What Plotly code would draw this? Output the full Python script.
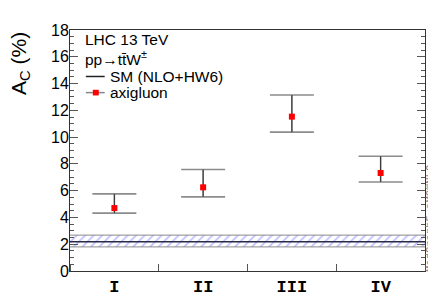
import plotly.graph_objects as go

# ---- data ----
categories = ["I", "II", "III", "IV"]
bin_pos = [1, 2, 3, 4]
axigluon = [4.70, 6.25, 11.53, 7.32]
axigluon_up = [5.76, 7.58, 13.14, 8.57]
axigluon_down = [4.32, 5.54, 10.37, 6.65]
sm_central = 2.18
sm_up = 2.68
sm_down = 1.80
x_edges = [0.5, 4.5]

W, H = 436, 301
L, R, T, B = 62, 16, 22, 25
PW, PH = W - L - R, H - T - B

def px(x):
    return (x - L) / PW

def py(y):
    return (H - B - y) / PH

err_plus = [u - v for u, v in zip(axigluon_up, axigluon)]
err_minus = [v - d for v, d in zip(axigluon, axigluon_down)]

fig = go.Figure()

# SM band (hatched)
fig.add_trace(go.Scatter(x=x_edges, y=[sm_down, sm_down], mode="lines",
                         line=dict(color="#8a8a8a", width=1), showlegend=False, hoverinfo="skip"))
fig.add_trace(go.Scatter(x=x_edges, y=[sm_up, sm_up], mode="lines",
                         line=dict(color="#8a8a8a", width=1), fill="tonexty",
                         fillcolor="rgba(0,0,0,0)",
                         fillpattern=dict(shape="/", fgcolor="#8080ff", bgcolor="white",
                                          size=6, solidity=0.28),
                         showlegend=False, hoverinfo="skip"))
fig.add_trace(go.Scatter(x=x_edges, y=[sm_central, sm_central], mode="lines",
                         line=dict(color="#2a2a4a", width=1.5), showlegend=False))

# axigluon error caps (gray) and vertical bars (dark)
fig.add_trace(go.Scatter(x=bin_pos, y=axigluon, mode="markers",
                         marker=dict(size=1, color="rgba(0,0,0,0)"),
                         error_y=dict(type="data", symmetric=False, array=err_plus,
                                      arrayminus=err_minus, color="#8c8c8c",
                                      thickness=1.6, width=22),
                         showlegend=False))
fig.add_trace(go.Scatter(x=bin_pos, y=axigluon, mode="markers",
                         marker=dict(size=6, color="#ff0000", symbol="square"),
                         error_y=dict(type="data", symmetric=False, array=err_plus,
                                      arrayminus=err_minus, color="#333333",
                                      thickness=1, width=0),
                         showlegend=False))
# empty trace to host the generator label axis
fig.add_trace(go.Scatter(x=[None], y=[None], yaxis="y2", showlegend=False, hoverinfo="skip"))

font_main = "Liberation Sans, Arial, sans-serif"

fig.update_layout(
    width=W, height=H,
    margin=dict(l=L, r=R, t=T, b=B),
    paper_bgcolor="white", plot_bgcolor="rgba(0,0,0,0)",
    showlegend=False,
    font=dict(family=font_main, color="black"),
    yaxis2=dict(domain=[py(273), py(168)], anchor="x", side="right", range=[0, 1],
                showline=False, showticklabels=False, ticks="", showgrid=False,
                zeroline=False,
                title=dict(text="MadGraph5_aMC@NLO", standoff=0,
                           font=dict(size=10.5, color="#808080",
                                     family="Liberation Mono, Courier New, monospace"))),
)
fig.update_xaxes(
    range=[0.5, 4.5], tickvals=bin_pos, ticktext=categories, ticks="",
    tickfont=dict(family="Liberation Mono, Courier New, monospace", size=17, color="black",
                  weight="bold"),
    showline=True, linecolor="#333333", linewidth=1, mirror=True,
    showgrid=False, zeroline=False,
    minor=dict(tick0=0.5, dtick=1, ticks="inside", ticklen=7, tickcolor="#555555",
               showgrid=False),
)
fig.layout.yaxis.update(
    range=[0, 18], dtick=2, ticks="inside", ticklen=8, tickcolor="#555555",
    tickfont=dict(size=16, color="black"), ticklabelstandoff=-3,
    showline=True, linecolor="#333333", linewidth=1, mirror="ticks",
    showgrid=False, zeroline=False,
    minor=dict(dtick=0.5, ticks="inside", ticklen=4, tickcolor="#555555", showgrid=False),
)

annotations = [
    dict(x=px(11), y=1.0, xref="paper", yref="paper", text="A<sub>C</sub> (%)",
         textangle=-90, showarrow=False, xanchor="center", yanchor="top",
         font=dict(size=21, color="black")),
    dict(x=px(75), y=py(32), xref="paper", yref="paper", text="LHC 13 TeV",
         showarrow=False, xanchor="left", yanchor="middle", font=dict(size=15.5)),
    dict(x=px(75), y=py(52), xref="paper", yref="paper",
         text="pp\u2192tt\u0304W<sup>\u00b1</sup>",
         showarrow=False, xanchor="left", yanchor="middle", font=dict(size=15.5)),
    dict(x=px(100), y=py(71), xref="paper", yref="paper", text="SM (NLO+HW6)",
         showarrow=False, xanchor="left", yanchor="middle", font=dict(size=15.5)),
    dict(x=px(100), y=py(88), xref="paper", yref="paper", text="axigluon",
         showarrow=False, xanchor="left", yanchor="middle", font=dict(size=15.5)),
]
fig.update_layout(annotations=annotations)

shapes = [
    dict(type="line", xref="paper", yref="paper", x0=px(78), x1=px(97), y0=py(71), y1=py(71),
         line=dict(color="#222222", width=1.5)),
    dict(type="line", xref="paper", yref="paper", x0=px(78), x1=px(97), y0=py(88), y1=py(88),
         line=dict(color="#888888", width=1.5)),
    dict(type="rect", xref="paper", yref="paper", x0=px(85), x1=px(91), y0=py(85), y1=py(91),
         line=dict(width=0), fillcolor="#ff0000"),
]
fig.update_layout(shapes=shapes)

fig.write_html("out.html")
